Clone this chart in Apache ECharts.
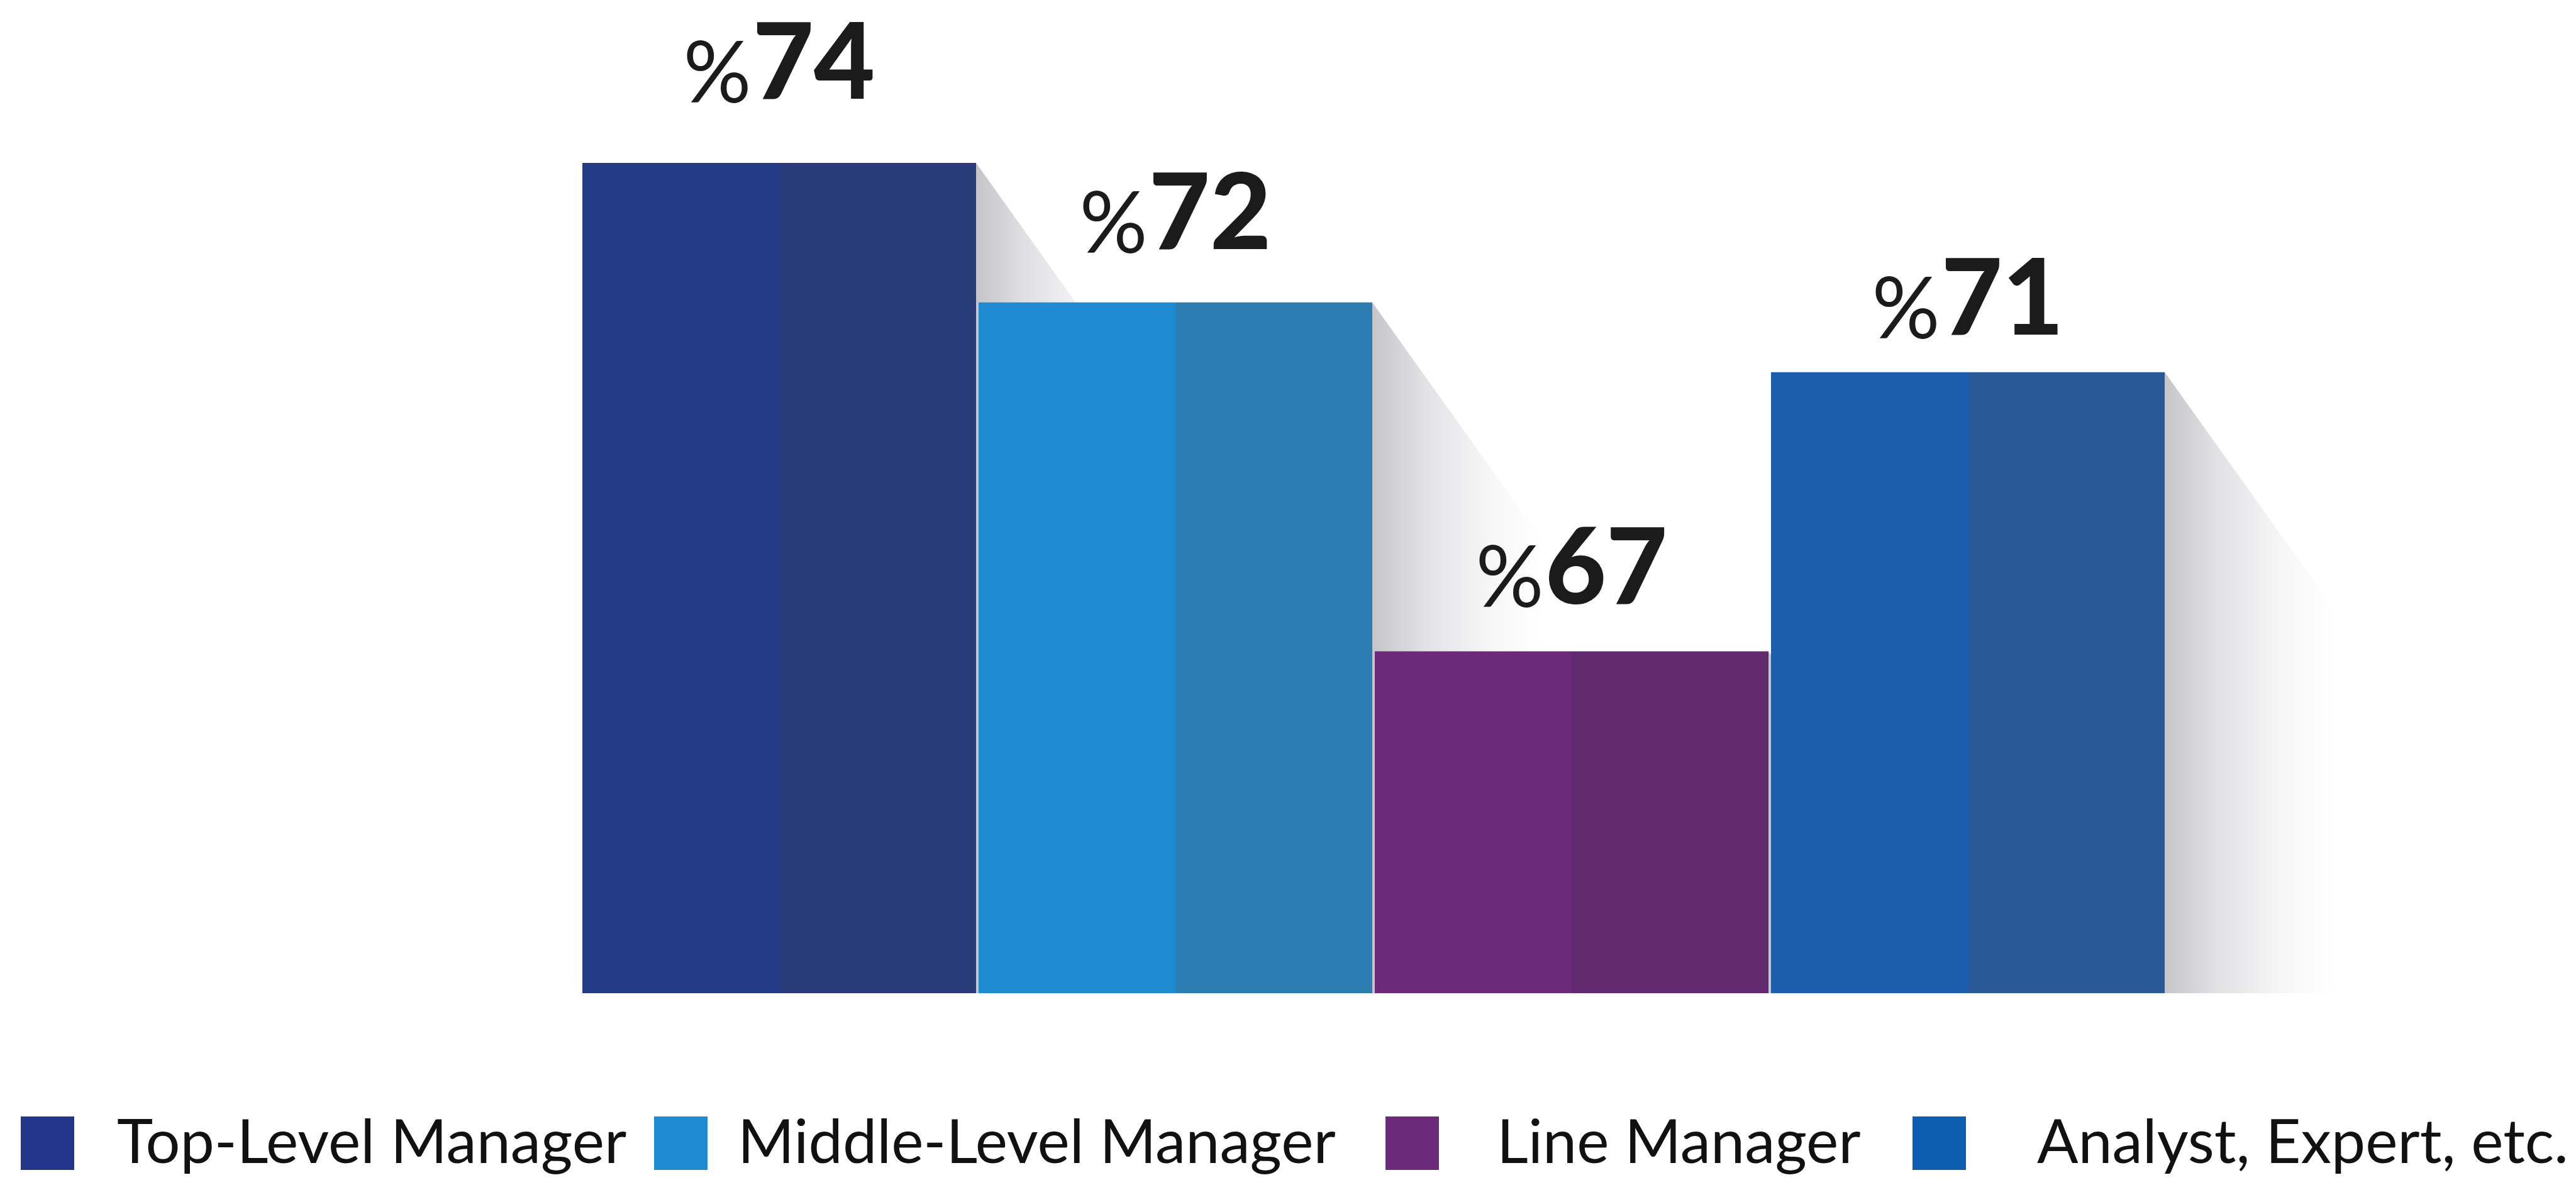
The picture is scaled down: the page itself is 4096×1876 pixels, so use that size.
<!DOCTYPE html>
<html>
<head>
<meta charset="utf-8">
<script src="https://cdn.jsdelivr.net/npm/echarts@6/dist/echarts.min.js"></script>
<style>
  html, body { margin: 0; padding: 0; background: #ffffff; }
  #chart { width: 4096px; height: 1876px; }
</style>
</head>
<body>
<div id="chart"></div>
<script>
// Share of respondents per role
const categories = ['Top-Level Manager', 'Middle-Level Manager', 'Line Manager', 'Analyst, Expert, etc.'];
const shares = [74, 72, 67, 71];

// Two-tone faces of each bar and the legend swatches
const faceLeft = ['#243b87', '#1f8bd0', '#6c2a7b', '#1d5dae'];
const faceRight = ['#2a3b7a', '#2c7db1', '#622a6e', '#295a97'];
const swatch = ['#23378a', '#1e8ad0', '#6b2a7c', '#0d5db0'];

// Layout constants
const Y_MIN = 62.1, Y_MAX = 76.1;
const BAR_W = 626;
const SHADOW_W = 270, SHADOW_SLOPE = 1.4;
const labelGap = [72, 55, 46, 30];
const legendLeft = [33, 1040, 2203, 3041];
const legendTextPad = [63, 43, 87, 108];

const chart = echarts.init(document.getElementById('chart'), null, { renderer: 'canvas' });

const faceGradient = (i) => new echarts.graphic.LinearGradient(0, 0, 1, 0, [
  { offset: 0, color: faceLeft[i] },
  { offset: 0.5, color: faceLeft[i] },
  { offset: 0.5, color: faceRight[i] },
  { offset: 1, color: faceRight[i] }
]);

// One series per role so each gets its own legend entry
const barSeries = categories.map((name, i) => ({
  name,
  type: 'bar',
  barWidth: BAR_W,
  barGap: '-100%',
  z: 3,
  data: shares.map((v, j) => (j === i ? v : '-')),
  itemStyle: { color: faceGradient(i) },
  label: {
    show: true,
    position: 'top',
    distance: labelGap[i],
    formatter: (p) => '{p|%}{v|' + p.value + '}',
    rich: {
      p: { fontFamily: 'Lato', fontSize: 135, fontWeight: 'normal', color: '#1b1b1b',
           lineHeight: 142, verticalAlign: 'bottom', padding: [0, 2, 0, 0] },
      v: { fontFamily: 'Lato', fontSize: 168, fontWeight: 900, color: '#1b1b1b',
           lineHeight: 168, verticalAlign: 'bottom' }
    }
  }
}));

// Soft long shadow falling to the right of every bar
const shadowSeries = {
  type: 'custom',
  z: 1,
  silent: true,
  data: shares.map((v, i) => [i, v]),
  renderItem: (params, api) => {
    const top = api.coord([api.value(0), api.value(1)]);
    const base = api.coord([api.value(0), Y_MIN]);
    const xR = top[0] + BAR_W / 2;
    const yT = top[1], yB = base[1];
    const yD = Math.min(yT + SHADOW_W * SHADOW_SLOPE, yB);
    return {
      type: 'polygon',
      shape: { points: [[xR, yT], [xR + SHADOW_W, yD], [xR + SHADOW_W, yB], [xR, yB]] },
      style: {
        fill: new echarts.graphic.LinearGradient(0, 0, 1, 0, [
          { offset: 0, color: 'rgba(45,45,65,0.28)' },
          { offset: 0.3, color: 'rgba(45,45,65,0.14)' },
          { offset: 0.7, color: 'rgba(45,45,65,0.04)' },
          { offset: 1, color: 'rgba(45,45,65,0)' }
        ])
      }
    };
  }
};

const legends = categories.map((name, i) => ({
  show: true,
  selectedMode: false,
  orient: 'horizontal',
  left: legendLeft[i],
  top: 1769,
  padding: 0,
  icon: 'rect',
  itemWidth: 85,
  itemHeight: 85,
  data: [{ name, itemStyle: { color: swatch[i] } }],
  textStyle: {
    fontFamily: 'Lato',
    fontWeight: 'normal',
    fontSize: 97,
    color: '#111111',
    padding: [0, 0, 32, legendTextPad[i]]
  }
}));

chart.setOption({
  animation: false,
  backgroundColor: '#ffffff',
  grid: { left: 924, right: 652, top: 26, bottom: 297 },
  xAxis: {
    type: 'category',
    data: categories,
    show: false
  },
  yAxis: {
    type: 'value',
    min: Y_MIN,
    max: Y_MAX,
    show: false
  },
  legend: legends,
  series: [shadowSeries, ...barSeries]
});
</script>
</body>
</html>
